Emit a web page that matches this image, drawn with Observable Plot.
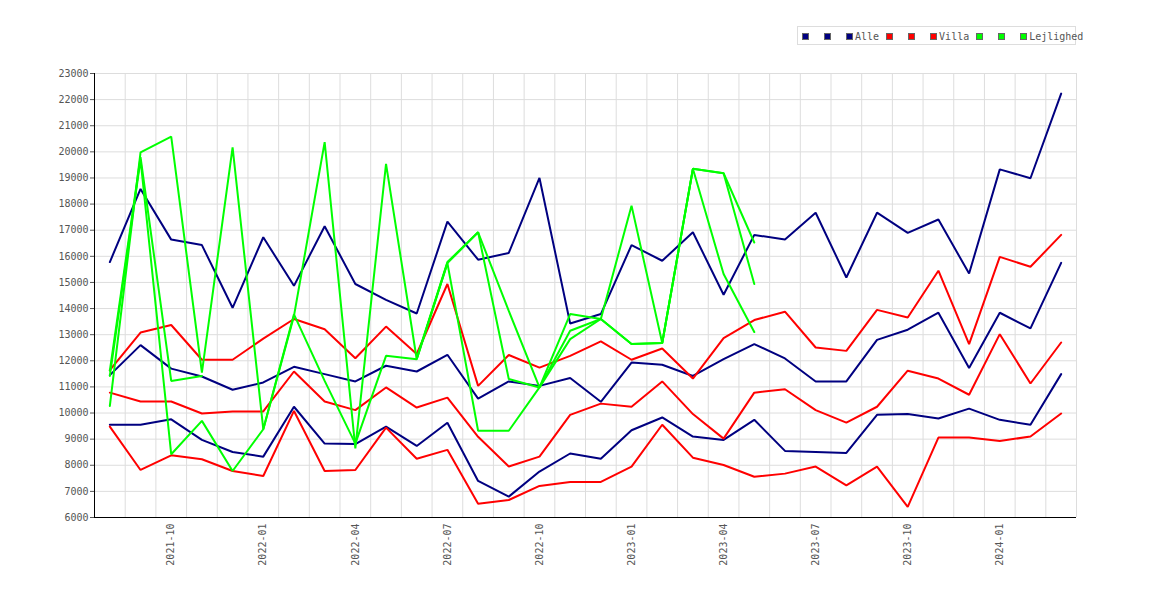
<!DOCTYPE html>
<html>
<head>
<meta charset="utf-8">
<script src="https://cdn.jsdelivr.net/npm/d3@7"></script>
<script src="https://cdn.jsdelivr.net/npm/@observablehq/plot@0.6"></script>
<style>
  body { margin: 0; background: #fff; }
  #wrap { position: relative; width: 1170px; height: 600px; }
  #legend { position: absolute; left: 797px; top: 26px; width: 279px; height: 19px; border: 1px solid #ddd; background: #fff;
            font: 10px "DejaVu Sans Mono", monospace; color: #555; white-space: nowrap; box-sizing: border-box; }
  #legend .row { position: absolute; left: 4px; top: 3px; display: flex; align-items: center; height: 12px; }
  #legend .sq { display: inline-block; box-sizing: border-box; width: 7px; height: 7px; border: 1px solid #666; margin-right: 15px; flex: none; }
  #legend .sq.last { margin-right: 2px; }
  #legend .lab { margin-right: 7px; }
</style>
</head>
<body>
<div id="wrap">
  <div id="chart"></div>
  <div id="legend"><div class="row" id="legrow"></div></div>
</div>
<script>
const months = ["2021-08","2021-09","2021-10","2021-11","2021-12","2022-01","2022-02","2022-03","2022-04","2022-05","2022-06","2022-07","2022-08","2022-09","2022-10","2022-11","2022-12","2023-01","2023-02","2023-03","2023-04","2023-05","2023-06","2023-07","2023-08","2023-09","2023-10","2023-11","2023-12","2024-01","2024-02","2024-03"];
const tickLabels = ["2021-10","2022-01","2022-04","2022-07","2022-10","2023-01","2023-04","2023-07","2023-10","2024-01"];
const yTicks = [6000,7000,8000,9000,10000,11000,12000,13000,14000,15000,16000,17000,18000,19000,20000,21000,22000,23000];

const alleHigh = [15780,18580,16640,16430,14030,16730,14870,17150,14940,14330,13810,17330,15870,16130,19000,13430,13790,16430,15830,16920,14530,16820,16640,17670,15190,17670,16900,17410,15340,19330,18990,22230];
const alleMid  = [11450,12600,11700,11400,10890,11170,11770,11490,11210,11810,11590,12230,10550,11210,11040,11340,10430,11930,11850,11420,12060,12640,12090,11210,11210,12800,13190,13840,11720,13840,13240,15750];
const alleLow  = [9550,9550,9760,8970,8510,8330,10240,8830,8810,9480,8740,9630,7400,6800,7760,8450,8250,9340,9830,9100,8970,9740,8550,8510,8470,9930,9960,9790,10170,9740,9550,11490];

const villaHigh = [11640,13080,13370,12040,12040,12850,13600,13210,12100,13310,12260,14940,11040,12220,11740,12190,12740,12040,12470,11320,12870,13560,13880,12510,12380,13950,13660,15450,12640,15980,15600,16820];
const villaMid  = [10780,10440,10440,9980,10060,10060,11590,10440,10110,10980,10210,10590,9090,7950,8330,9930,10360,10240,11210,9960,9020,10780,10910,10110,9630,10240,11620,11320,10700,13020,11130,12700];
const villaLow  = [9480,7820,8380,8230,7780,7590,10080,7780,7820,9440,8250,8590,6530,6670,7210,7360,7360,7950,9550,8290,8010,7560,7680,7950,7230,7950,6410,9060,9060,8930,9100,9980];

const lejA = [10270,19980,20580,11550,20170,9380,13720,20370,8650,19540,12060,15740,16920,13910,10980,13790,13600,17940,12680,19350,19180,14940];
const lejB = [11620,19800,11230,11420,null,null,null,null,null,null,12100,15780,16920,11300,10980,13150,13600,12640,12680,19350,19180,16530];
const lejC = [11420,19700,8420,9700,7780,9380,13780,11230,8830,12190,12060,15740,9320,9320,10980,12830,13600,12640,12680,19350,15320,13100];

const groups = [
  {name: "Alle", color: "#000080", lines: [alleHigh, alleMid, alleLow]},
  {name: "Villa", color: "#ff0000", lines: [villaHigh, villaMid, villaLow]},
  {name: "Lejlighed", color: "#00ff00", lines: [lejA, lejB, lejC]}
];

const tickIdx = tickLabels.map(t => months.indexOf(t));
const cellEdges = months.map((m, i) => i + 0.5);

const lineMarks = [];
groups.forEach(g => {
  g.lines.forEach((vals, k) => {
    const rows = vals.map((v, i) => ({i, v}));
    lineMarks.push(Plot.line(rows, {x: "i", y: "v", stroke: g.color, strokeWidth: 2, strokeLinejoin: "miter"}));
  });
});

const chart = Plot.plot({
  width: 1170,
  height: 600,
  marginLeft: 94,
  marginRight: 94,
  marginTop: 73,
  marginBottom: 83,
  style: {fontFamily: "'DejaVu Sans Mono', monospace", fontSize: "10px", background: "#fff"},
  x: {type: "linear", domain: [-0.5, months.length - 0.5]},
  y: {domain: [6000, 23000]},
  marks: [
    Plot.gridX(cellEdges, {stroke: "#dddddd", strokeOpacity: 1, strokeWidth: 1}),
    Plot.gridY(yTicks, {stroke: "#dddddd", strokeOpacity: 1, strokeWidth: 1}),
    Plot.axisY(yTicks, {tickFormat: d => String(d), tickSize: 4, tickPadding: 2, fill: "#555", stroke: "#555", fontSize: 10, label: null}),
    Plot.axisX(tickIdx, {tickFormat: i => months[i], tickRotate: -90, tickSize: 0, tickPadding: 6, fill: "#555", fontSize: 10, label: null}),
    ...lineMarks,
    Plot.ruleX([-0.5], {stroke: "#000", strokeWidth: 1}),
    Plot.ruleY([6000], {stroke: "#000", strokeWidth: 1})
  ]
});
document.getElementById("chart").appendChild(chart);

const row = document.getElementById("legrow");
groups.forEach(g => {
  for (let k = 0; k < 3; k++) {
    const s = document.createElement("span");
    s.className = "sq" + (k === 2 ? " last" : "");
    s.style.background = g.color;
    row.appendChild(s);
  }
  const t = document.createElement("span");
  t.className = "lab";
  t.textContent = g.name;
  row.appendChild(t);
});
</script>
</body>
</html>
